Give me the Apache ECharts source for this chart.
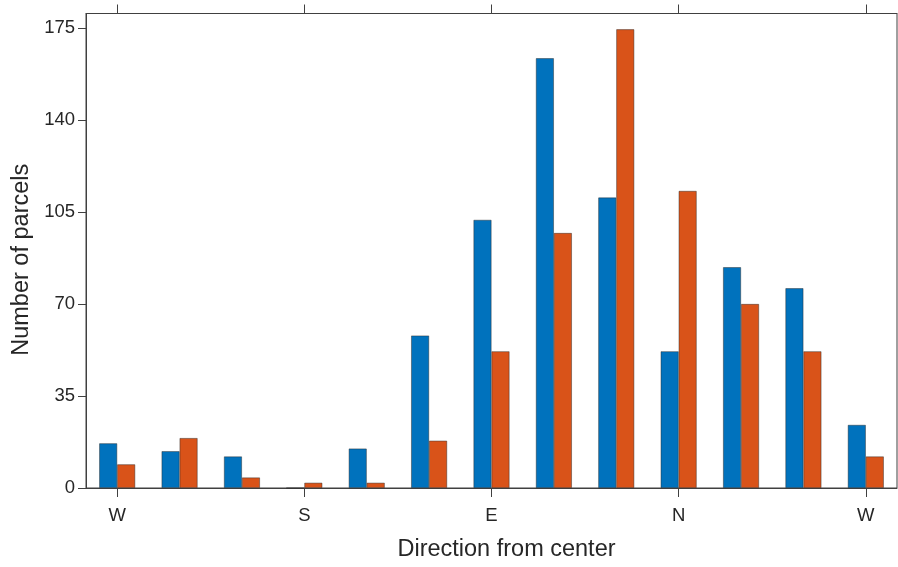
<!DOCTYPE html>
<html>
<head>
<meta charset="utf-8">
<script src="https://cdn.jsdelivr.net/npm/echarts@6/dist/echarts.min.js"></script>
<style>
  html, body { margin: 0; padding: 0; background: #fff; }
  #chart { width: 898px; height: 567px; }
</style>
</head>
<body>
<div id="chart"></div>
<script>
// 13 direction bins, labelled every third bin
const categories = ['b1','b2','b3','b4','b5','b6','b7','b8','b9','b10','b11','b12','b13'];
const tickLabels = ['W', 'S', 'E', 'N', 'W'];
const blueValues = [17, 14, 12, 0, 15, 58, 102, 163.5, 110.5, 52, 84, 76, 24];
const orangeValues = [9, 19, 4, 2, 2, 18, 52, 97, 174.5, 113, 70, 52, 12];
const yTicks = [0, 35, 70, 105, 140, 175];

const axisColor = '#404040';
const textColor = '#262626';
const font = 'Liberation Sans, Arial, sans-serif';

const chart = echarts.init(document.getElementById('chart'));
chart.setOption({
  animation: false,
  backgroundColor: '#fff',
  grid: {
    left: 86, right: 1, top: 13.5, bottom: 75.5,
    containLabel: false,
    show: true, borderColor: axisColor, borderWidth: 1
  },
  xAxis: [
    {
      type: 'category',
      data: categories,
      position: 'bottom',
      boundaryGap: true,
      name: 'Direction from center',
      nameLocation: 'middle',
      nameGap: 50,
      nameTextStyle: { fontFamily: font, fontSize: 23.5, color: textColor, padding: [0, 0, 0, 30] },
      axisLine: { show: true, lineStyle: { color: axisColor, width: 1 } },
      axisTick: { show: true, alignWithLabel: true, interval: 2, length: 9, inside: false, lineStyle: { color: axisColor } },
      axisLabel: {
        interval: 2, margin: 18, fontFamily: font, fontSize: 18.5, color: textColor,
        formatter: (v, i) => (i % 3 === 0 ? tickLabels[i / 3] : '')
      },
      splitLine: { show: false }
    },
    {
      type: 'category',
      data: categories,
      position: 'top',
      boundaryGap: true,
      axisLine: { show: true, lineStyle: { color: axisColor, width: 1 } },
      axisTick: { show: true, alignWithLabel: true, interval: 2, length: 9, inside: false, lineStyle: { color: axisColor } },
      axisLabel: { show: false },
      splitLine: { show: false }
    }
  ],
  yAxis: {
    type: 'value',
    min: 0,
    max: 180.5,
    interval: 35,
    name: 'Number of parcels',
    nameLocation: 'middle',
    nameGap: 52,
    nameTextStyle: { fontFamily: font, fontSize: 23.5, color: textColor, padding: [0, 18, 0, 0] },
    axisLine: { show: true, lineStyle: { color: axisColor, width: 1 } },
    axisTick: { show: true, length: 8, inside: false, customValues: yTicks, lineStyle: { color: axisColor } },
    axisLabel: { margin: 11, fontFamily: font, fontSize: 18.5, color: textColor, customValues: yTicks },
    splitLine: { show: false }
  },
  series: [
    {
      type: 'bar',
      data: blueValues,
      barWidth: 18,
      barGap: '0%',
      itemStyle: { color: '#0072BD', borderColor: 'rgba(40,40,40,0.65)', borderWidth: 0.7 }
    },
    {
      type: 'bar',
      data: orangeValues,
      barWidth: 18,
      barGap: '0%',
      itemStyle: { color: '#D95319', borderColor: 'rgba(40,40,40,0.65)', borderWidth: 0.7 }
    }
  ]
});
</script>
</body>
</html>
